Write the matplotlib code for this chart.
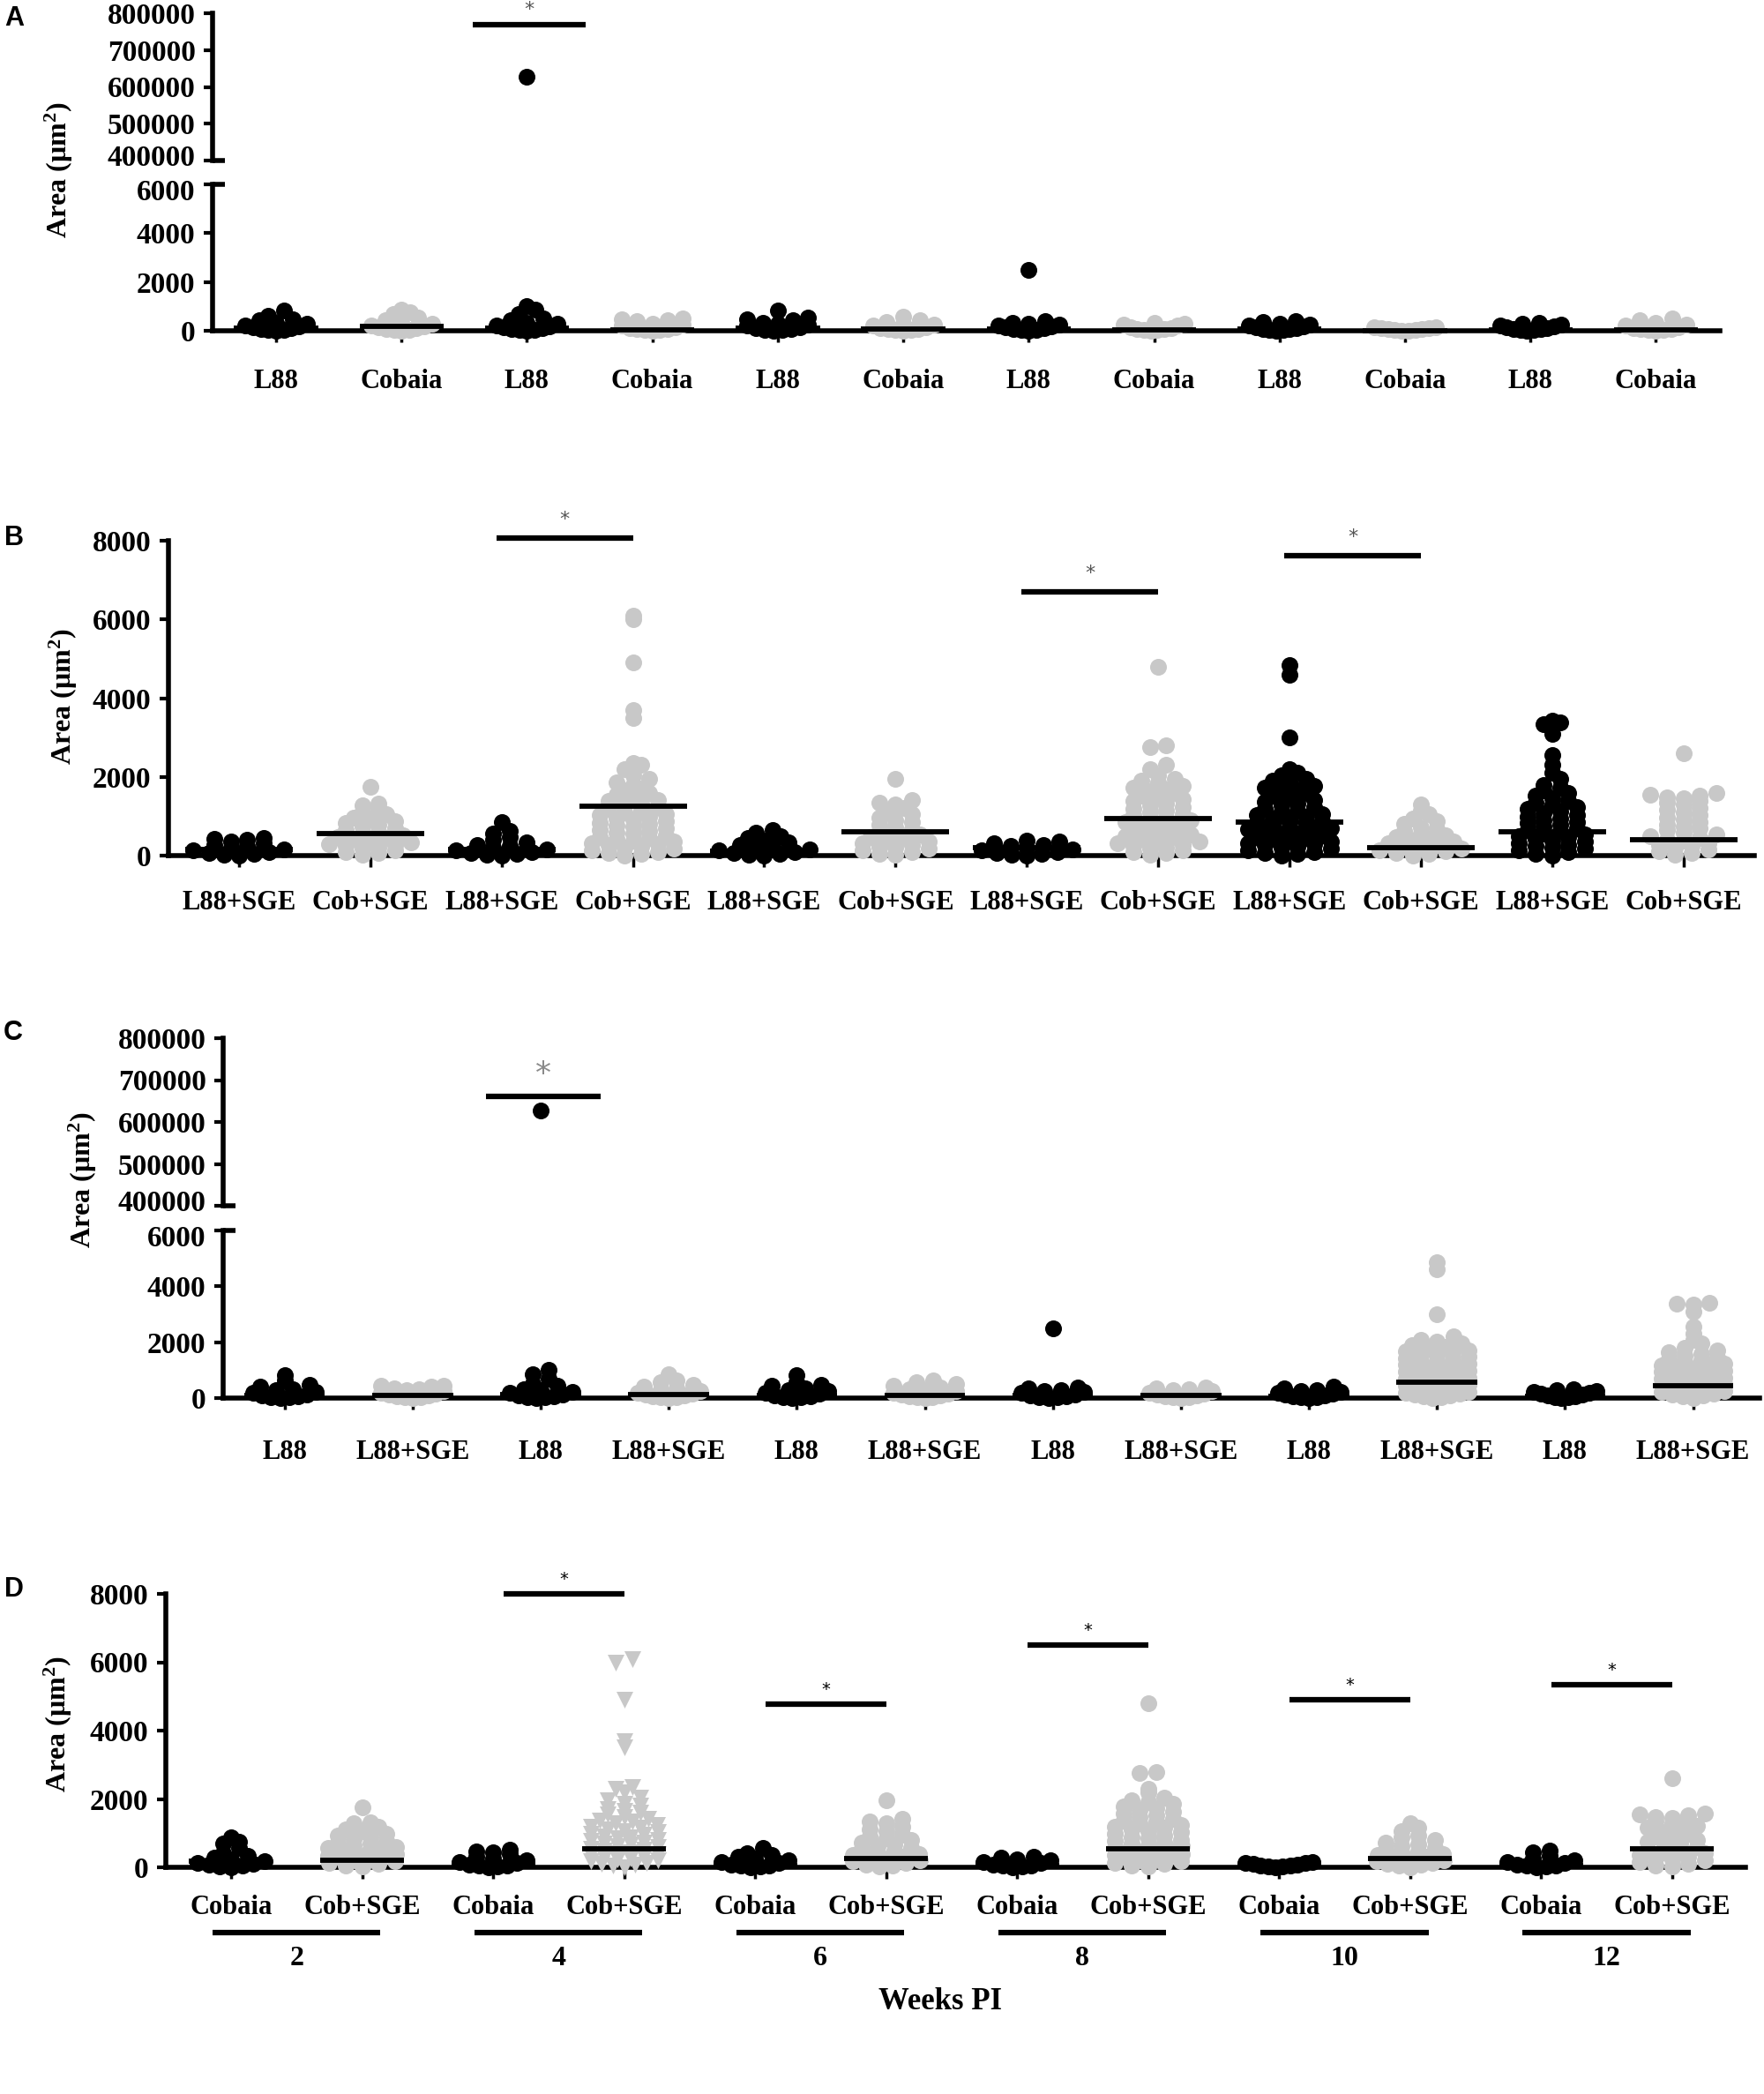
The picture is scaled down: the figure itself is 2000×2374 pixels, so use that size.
import numpy as np
import matplotlib
matplotlib.use("Agg")
import matplotlib.pyplot as plt
from matplotlib.transforms import blended_transform_factory

# ---------------- data (µm²) ----------------
WEEKS = [2, 4, 6, 8, 10, 12]

L88 = [
    [5, 20, 40, 70, 100, 140, 180, 230, 280, 330, 420, 470, 620, 820],
    [5, 20, 40, 70, 100, 140, 180, 230, 280, 330, 450, 520, 700, 850, 1000, 627000],
    [5, 20, 40, 70, 110, 150, 200, 250, 300, 340, 430, 480, 560, 830],
    [5, 20, 40, 70, 100, 140, 180, 220, 260, 300, 340, 380, 2480],
    [5, 20, 40, 60, 90, 120, 150, 180, 220, 260, 300, 360, 400],
    [5, 20, 40, 60, 90, 120, 150, 180, 210, 250, 290, 330],
]
COBAIA = [
    [5, 20, 40, 70, 100, 140, 180, 230, 280, 330, 420, 560, 700, 760, 880],
    [5, 20, 40, 60, 90, 120, 160, 200, 250, 300, 380, 430, 470, 520],
    [5, 20, 40, 60, 90, 120, 160, 200, 250, 300, 350, 420, 580],
    [5, 20, 40, 60, 90, 120, 160, 200, 240, 280, 320],
    [5, 15, 30, 45, 60, 80, 100, 120, 140, 160],
    [5, 20, 40, 60, 90, 120, 160, 200, 270, 330, 440, 500],
]
L88_SGE = [
    [5, 20, 40, 70, 100, 130, 160, 200, 240, 280, 320, 360, 400, 430, 450],
    [5, 20, 40, 70, 100, 130, 160, 200, 240, 280, 340, 400, 480, 560, 620, 850],
    [5, 20, 40, 70, 100, 130, 160, 200, 240, 280, 330, 380, 440, 500, 580, 640],
    [5, 20, 40, 70, 100, 130, 160, 200, 240, 280, 320, 350, 380],
    [10, 40, 70, 100, 130, 170, 200, 230, 260, 290, 320, 350, 390, 420, 450, 480, 510, 540, 570, 610, 640, 670,
     700, 730, 770, 800, 840, 880, 910, 950, 980, 1020, 1060, 1110, 1150, 1190, 1230, 1280, 1320, 1370, 1420,
     1470, 1530, 1580, 1630, 1680, 1720, 1780, 1840, 1900, 1960, 2030, 2100, 2200, 3000, 4600, 4850],
    [10, 50, 90, 130, 170, 210, 240, 270, 310, 350, 390, 430, 460, 490, 530, 570, 620, 660, 700, 740, 780, 820,
     860, 900, 940, 980, 1030, 1080, 1130, 1180, 1230, 1290, 1350, 1400, 1460, 1530, 1590, 1650, 1720, 1800,
     1950, 2100, 2300, 2550, 3100, 3350, 3380, 3420],
]
COB_SGE = [
    [20, 60, 100, 140, 180, 210, 240, 270, 300, 340, 380, 420, 450, 480, 520, 560, 600, 650, 690, 730, 780, 830,
     880, 930, 970, 1050, 1120, 1200, 1280, 1320, 1750],
    [10, 40, 70, 100, 140, 170, 200, 230, 260, 290, 320, 350, 390, 420, 450, 480, 520, 550, 590, 620, 660, 700,
     730, 770, 800, 840, 880, 910, 950, 980, 1020, 1060, 1100, 1150, 1190, 1230, 1280, 1330, 1380, 1420, 1470,
     1540, 1600, 1650, 1700, 1800, 1870, 1950, 2050, 2200, 2300, 2350, 3500, 3700, 4900, 6000, 6100],
    [20, 50, 90, 130, 170, 200, 235, 270, 310, 350, 400, 440, 480, 530, 580, 630, 680, 720, 790, 850, 900, 960,
     1050, 1120, 1200, 1300, 1350, 1420, 1950],
    [20, 60, 100, 140, 180, 210, 240, 270, 310, 350, 390, 430, 460, 490, 530, 570, 610, 650, 690, 730, 770, 810,
     850, 890, 930, 970, 1020, 1060, 1100, 1150, 1190, 1230, 1280, 1330, 1380, 1430, 1480, 1530, 1580, 1630,
     1680, 1720, 1780, 1850, 1900, 1960, 2050, 2200, 2300, 2750, 2800, 4800],
    [10, 40, 70, 110, 140, 170, 200, 230, 270, 310, 350, 390, 430, 470, 520, 570, 620, 670, 720, 800, 870, 940,
     1050, 1150, 1300],
    [20, 60, 110, 160, 200, 240, 270, 320, 370, 410, 450, 490, 530, 590, 640, 690, 740, 790, 850, 910, 970, 1030,
     1100, 1160, 1220, 1300, 1350, 1400, 1450, 1480, 1520, 1550, 1580, 2600],
]

# central lines per panel (first series, second series), by week
A_MED_L88 = [100, 120, 100, 80, 60, 50]
A_MED_COB = [180, 20, 60, 30, 10, 40]
B_MED_L88SGE = [150, 150, 120, 200, 860, 600]
B_MED_COBSGE = [550, 1250, 600, 930, 200, 400]
C_MED_L88 = [100, 120, 100, 80, 60, 50]
C_MED_L88SGE = [100, 120, 100, 100, 580, 440]
D_MED_COB = [170, 100, 60, 50, 20, 50]
D_MED_COBSGE = [215, 530, 260, 530, 270, 530]

# significance bars: (first group index, last group index, height)
A_SIG = [(2, 2, 769000)]
B_SIG = [(2, 3, 8070), (6, 7, 6700), (8, 9, 7620)]
C_SIG = [(2, 2, 661000)]
D_SIG = [(2, 3, 8000), (4, 5, 4770), (6, 7, 6500), (8, 9, 4900), (10, 11, 5350)]

A_LABELS = ["L88", "Cobaia"]
B_LABELS = ["L88+SGE", "Cob+SGE"]
C_LABELS = ["L88", "L88+SGE"]
D_LABELS = ["Cobaia", "Cob+SGE"]

LOW_TICKS = [0, 2000, 4000, 6000]
UP_TICKS = [400000, 500000, 600000, 700000, 800000]
FULL_TICKS = [0, 2000, 4000, 6000, 8000]

# ---------------- style ----------------
W, H, DPI = 2000, 2374, 100
BLACK = "#000000"
GRAY = "#c8c8c8"
SPW = 4.0
DIAM = 19.0          # marker diameter in px
YTS = 24             # y tick label size
plt.rcParams["font.family"] = ["Liberation Serif", "DejaVu Serif"]
plt.rcParams["font.weight"] = "bold"
plt.rcParams["mathtext.fontset"] = "custom"
plt.rcParams["mathtext.rm"] = "Liberation Serif:bold"
plt.rcParams["mathtext.it"] = "Liberation Serif:bold"
plt.rcParams["mathtext.bf"] = "Liberation Serif:bold"
plt.rcParams["mathtext.default"] = "rm"

fig = plt.figure(figsize=(W / DPI, H / DPI), dpi=DPI)


def fx(px):
    return px / W


def fy(py):
    return 1 - py / H


def add_ax(left, right, top, bottom):
    return fig.add_axes([fx(left), fy(bottom), (right - left) / W, (bottom - top) / H])


def style(ax, ticks, ylim, xlim, bottom, xpad, labels=None, shifted=None):
    ax.set_xlim(*xlim)
    ax.set_ylim(*ylim)
    ax.set_facecolor("none")
    for s in ["top", "right"]:
        ax.spines[s].set_visible(False)
    ax.spines["left"].set_linewidth(SPW)
    ax.spines["left"].set_zorder(1)
    ax.set_yticks(ticks)
    shifted = shifted or {}
    ax.set_yticklabels(["" if t in shifted else str(t) for t in ticks])
    ax.tick_params(axis="y", length=7, width=3, pad=7, labelsize=YTS)
    trY = blended_transform_factory(ax.transAxes, ax.transData)
    for t, dy in shifted.items():
        ax.annotate(str(t), xy=(0, t), xycoords=trY, xytext=(-14, dy), textcoords="offset points",
                    ha="right", va="center_baseline", fontsize=YTS, annotation_clip=False)
    if bottom:
        ax.spines["bottom"].set_linewidth(SPW)
        ax.spines["bottom"].set_zorder(1)
        ax.set_xticks(range(12))
        ax.set_xticklabels(labels)
        ax.tick_params(axis="x", length=9, width=2.5, pad=xpad, labelsize=22)
    else:
        ax.spines["bottom"].set_visible(False)
        ax.set_xticks([])


def row_layout(ypx, maxw):
    """Prism-like scatter: points grouped in horizontal rows, centred, compressed to maxw."""
    n = len(ypx)
    xs = np.zeros(n)
    binh = DIAM * 0.42
    bins = np.floor(ypx / binh).astype(int)
    dx0 = DIAM * 0.98
    for b in np.unique(bins):
        idx = np.where(bins == b)[0]
        idx = idx[np.argsort(ypx[idx])]
        m = len(idx)
        if m == 1:
            continue
        dx = min(dx0, (maxw - DIAM) / (m - 1))
        slots = (np.arange(m) - (m - 1) / 2) * dx
        order = np.argsort(np.abs(slots) + 1e-3 * np.arange(m))
        for k, ii in enumerate(idx):
            xs[ii] = slots[order[k]]
    return xs


def draw_groups(ax, gi, values, color, marker, medval, medw, clusterw, vmin, vmax):
    vals = np.array([v for v in values if vmin <= v <= vmax], dtype=float)
    if len(vals):
        p0 = ax.transData.transform((0, 0))
        p1 = ax.transData.transform((1, 1))
        sx = p1[0] - p0[0]
        sy = p1[1] - p0[1]
        ypx = (vals - vmin) * sy
        off = row_layout(ypx, clusterw * sx) / sx
        ax.scatter(gi + off, vals, s=(DIAM * 0.72) ** 2, c=color, marker=marker, linewidths=0,
                   clip_on=False, zorder=3)
    if medval is not None and vmin <= medval <= vmax:
        ax.plot([gi - medw / 2, gi + medw / 2], [medval, medval], color=BLACK, lw=4.2,
                solid_capstyle="butt", zorder=4, clip_on=False)


def draw_sig(ax, sigs, a, b, star_dy, star_size, star_color):
    for i, j, yv in sigs:
        x0, x1 = i + a, j + b
        ax.plot([x0, x1], [yv, yv], color=BLACK, lw=4.5, solid_capstyle="butt",
                clip_on=False, zorder=5)
        ax.annotate("*", xy=((x0 + x1) / 2, yv), xytext=(0, star_dy), textcoords="offset points",
                    ha="center", va="center", fontsize=star_size, color=star_color,
                    family="DejaVu Sans", weight="normal", annotation_clip=False)


def break_mark(ax, ypos, width_px):
    ax.plot([0, 14 / width_px], [ypos, ypos], transform=ax.transAxes, color=BLACK, lw=SPW,
            solid_capstyle="butt", clip_on=False)


def panel(series1, series2, med1, med2, labels, lay, broken, sigs, sig_off, star,
          medw, clusterw, xpad, markers2=None):
    left, right = lay["x"]
    xlim = lay["xlim"]
    tick_labels = [labels[k % 2] for k in range(12)]
    if broken:
        low = add_ax(left, right, lay["low"][0], lay["low"][1])
        up = add_ax(left, right, lay["up"][0], lay["up"][1])
        style(low, LOW_TICKS, (0, 6000), xlim, True, xpad, tick_labels, shifted={6000: -4})
        style(up, UP_TICKS, (400000, 800000), xlim, False, xpad, shifted={400000: 4})
        break_mark(low, 1, right - left)
        break_mark(up, 0, right - left)
        axes = [(low, 0, 6000), (up, 400000, 800000)]
        sig_ax = up
    else:
        ax = add_ax(left, right, lay["full"][0], lay["full"][1])
        style(ax, FULL_TICKS, (0, 8000), xlim, True, xpad, tick_labels)
        axes = [(ax, 0, 8000)]
        sig_ax = ax
    for w in range(6):
        for ax, vmin, vmax in axes:
            draw_groups(ax, 2 * w, series1[w], BLACK, "o", med1[w], medw, clusterw, vmin, vmax)
            m2 = markers2[w] if markers2 else "o"
            draw_groups(ax, 2 * w + 1, series2[w], GRAY, m2, med2[w], medw, clusterw, vmin, vmax)
    draw_sig(sig_ax, sigs, sig_off[0], sig_off[1], star[0], star[1], star[2])
    return axes[0][0]


# ---------------- panels ----------------
LAY_A = dict(x=(241, 1950), xlim=(-0.506, 11.51), low=(209, 375), up=(15, 182))
LAY_B = dict(x=(191, 1989), xlim=(-0.537, 11.54), full=(613, 970))
LAY_C = dict(x=(253, 1995), xlim=(-0.48, 11.52), low=(1395, 1585), up=(1177, 1367))
LAY_D = dict(x=(188, 1979), xlim=(-0.498, 11.56), full=(1807, 2117))

panel(L88, COBAIA, A_MED_L88, A_MED_COB, A_LABELS, LAY_A, True, A_SIG, (-0.43, 0.47),
      (12, 16, "#555555"), 0.67, 0.62, 22)
panel(L88_SGE, COB_SGE, B_MED_L88SGE, B_MED_COBSGE, B_LABELS, LAY_B, False, B_SIG, (-0.04, 0.0),
      (15, 16, "#555555"), 0.82, 0.82, 19)
panel(L88, L88_SGE, C_MED_L88, C_MED_L88SGE, C_LABELS, LAY_C, True, C_SIG, (-0.43, 0.47),
      (18, 26, "#8a8a8a"), 0.63, 0.62, 25)
axD = panel(COBAIA, COB_SGE, D_MED_COB, D_MED_COBSGE, D_LABELS, LAY_D, False, D_SIG, (0.08, 0.0),
            (12, 14, BLACK), 0.64, 0.64, 13, markers2=["o", "v", "o", "o", "o", "o"])

# week grouping under panel D
trD = blended_transform_factory(axD.transData, fig.transFigure)
for k, wk in enumerate(WEEKS):
    x0, x1 = 2 * k - 0.14, 2 * k + 1 + 0.14
    axD.plot([x0, x1], [fy(2191), fy(2191)], transform=trD, color=BLACK, lw=4.5,
             solid_capstyle="butt", clip_on=False)
    axD.text((x0 + x1) / 2, fy(2220), str(wk), transform=trD, ha="center", va="center",
             fontsize=23)
fig.text(fx(1066), fy(2270), "Weeks PI", ha="center", va="center", fontsize=25)

# y labels
for xp, yp in [(67, 193), (72, 790), (94, 1338), (66, 1955)]:
    fig.text(fx(xp), fy(yp), r"Area ($\mu$m$^{2}$)", rotation=90, ha="center", va="center",
             fontsize=23)

# panel letters
for letter, xp, yp in [("A", 16, 21), ("B", 16, 610), ("C", 15, 1171), ("D", 16, 1802)]:
    fig.text(fx(xp), fy(yp), letter, ha="center", va="center", fontsize=22,
             family="Liberation Sans", weight="bold")

fig.savefig("out.png", dpi=DPI, facecolor="white")
